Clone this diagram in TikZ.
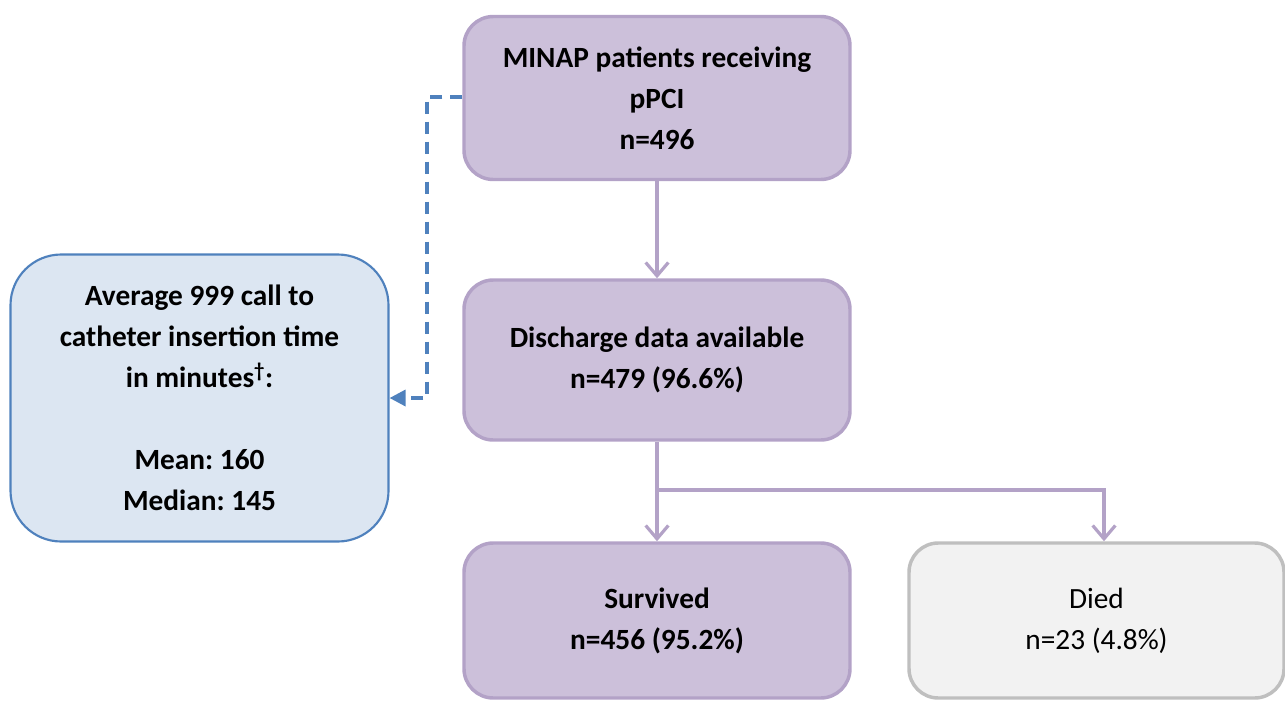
\documentclass[tikz,border=0pt]{standalone}
\usepackage{fontspec}
\setmainfont{Carlito}
\usetikzlibrary{arrows.meta}
\frenchspacing
\definecolor{pfill}{HTML}{CCC0DA}
\definecolor{pline}{HTML}{B3A2C7}
\definecolor{bfill}{HTML}{DCE6F2}
\definecolor{bline}{HTML}{4F81BD}
\definecolor{gfill}{HTML}{F2F2F2}
\definecolor{gline}{HTML}{BFBFBF}
\tikzset{
  box/.style={rounded corners=22pt, line width=2.6pt, align=center, inner sep=0pt,
    font=\fontsize{22}{30.75}\selectfont},
  pbox/.style={box, draw=pline, fill=pfill, font=\fontsize{22}{30.75}\selectfont\bfseries},
  gbox/.style={box, draw=gline, fill=gfill},
  bbox/.style={box, rounded corners=38pt, line width=1.6pt, draw=bline, fill=bfill,
    font=\fontsize{22}{30.75}\selectfont\bfseries},
  parrow/.style={draw=pline, line width=2.6pt, -{Straight Barb[length=10pt,width=17pt,line width=2.4pt]}},
  plink/.style={draw=pline, line width=2.6pt},
  barrow/.style={draw=bline, line width=2.5pt, dash pattern=on 9pt off 6pt,
    -{Triangle[length=12pt,width=12pt]}}
}
\begin{document}
\begin{tikzpicture}[x=0.75pt,y=-0.75pt]
\useasboundingbox (0,0) rectangle (1285,700);
\node[pbox, minimum width=386*0.75pt, minimum height=163*0.75pt] (minap) at (657,98)
  {MINAP patients receiving\\pPCI\\n=496};
\node[pbox, minimum width=386*0.75pt, minimum height=160*0.75pt] (disc) at (657,360)
  {Discharge data available\\n=479 (96.6\%)};
\node[pbox, minimum width=386*0.75pt, minimum height=155*0.75pt] (surv) at (657,620.5)
  {Survived\\n=456 (95.2\%)};
\node[gbox, minimum width=375*0.75pt, minimum height=155*0.75pt] (died) at (1096.5,620.5)
  {Died\\n=23 (4.8\%)};
\node[bbox, minimum width=378*0.75pt, minimum height=287*0.75pt] (avg) at (199.5,398)
  {Average 999 call to\\catheter insertion time\\in minutes\textsuperscript{\dag}:\\[30.75pt]Mean: 160\\Median: 145};
\coordinate (split) at (657,490);
\coordinate (dturn) at (1104,490);
\coordinate (da) at (427,97);
\coordinate (db) at (427,398);
\draw[parrow] (minap.south) -- (disc.north);
\draw[plink] (disc.south) -- (split);
\draw[parrow] (split) -- (surv.north);
\draw[parrow] (split) -- (dturn) -- (dturn |- died.north);
\draw[barrow] (minap.west |- da) -- (da) -- (db) -- (avg.east |- db);
\end{tikzpicture}
\end{document}
